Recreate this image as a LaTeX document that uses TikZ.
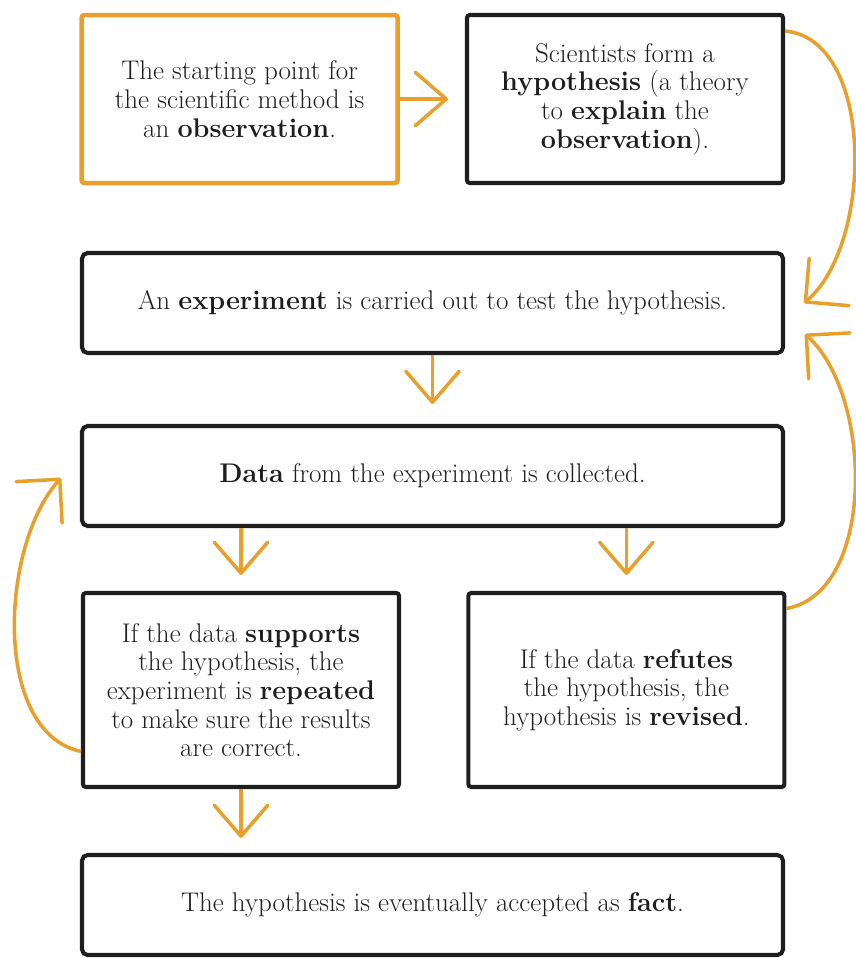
\documentclass[tikz,border=0pt]{standalone}
\usetikzlibrary{positioning,arrows.meta}
\definecolor{sciorange}{RGB}{232,160,42}
\definecolor{inkblack}{RGB}{30,30,30}

\begin{document}
\begin{tikzpicture}[
  box/.style={draw=inkblack, line width=2.9pt, rectangle, rounded corners=2pt,
              align=center, inner sep=0pt, text=inkblack,
              font=\fontsize{19.2}{20.4}\selectfont},
  obox/.style={box, draw=sciorange, line width=3.2pt},
  halfbox/.style={box, minimum width=7.9cm, minimum height=4.2cm},
  tallbox/.style={box, minimum width=7.9cm, minimum height=4.85cm},
  widebox/.style={box, rounded corners=4pt, minimum width=17.525cm, minimum height=2.5cm},
  arr/.style={-{Straight Barb[length=22pt,width=38pt,round]}, draw=sciorange, line width=2.5pt},
  backarr/.style={arr, -{Straight Barb[length=22pt,width=44pt,round]}, looseness=0.85}
]
\useasboundingbox (0,0) rectangle (21.4,-23.95);

%% ── nodes ───────────────────────────────────────────────────────────────
\node[halfbox, obox] (obs) at (5.99,  -2.475) {The starting point for\\ the scientific method is\\ an \textbf{observation}.};
\node[halfbox]       (hyp) at (15.625,-2.475) {Scientists form a\\ \textbf{hypothesis} (a theory\\ to \textbf{explain} the\\ \textbf{observation}).};

\node[widebox] (exp)  at (10.8125, -7.575) {An \textbf{experiment} is carried out to test the hypothesis.};
\node[widebox] (data) at (10.8125,-11.9)   {\textbf{Data} from the experiment is collected.};

% Outcomes
\node[tallbox] (sup) at (6.025,-17.25) {If the data \textbf{supports}\\ the hypothesis, the\\ experiment is \textbf{repeated}\\ to make sure the results\\ are correct.};
\node[tallbox] (ref) at (15.66,-17.25) {If the data \textbf{refutes}\\ the hypothesis, the\\ hypothesis is \textbf{revised}.};

\node[widebox] (fact) at (10.8125,-22.625) {The hypothesis is eventually accepted as \textbf{fact}.};

%% ── edges ───────────────────────────────────────────────────────────────
\draw[arr, shorten >=0.425cm] (obs) -- (hyp);
\draw[arr, shorten >=0.5cm]   (exp) -- (data);
\draw[arr, shorten >=0.4cm]   (sup.north |- data.south) -- (sup);
\draw[arr, shorten >=0.4cm]   (ref.north |- data.south) -- (ref);
\draw[arr, shorten >=0.375cm] (sup) -- (sup.south |- fact.north);

% Loops back
\draw[backarr] (hyp.23) to[out=-5, in=40]
               ([xshift=0.475cm]exp.east);
\draw[backarr] (ref.27) to[out=10, in=-42]
               ([xshift=0.5cm,yshift=-0.775cm]exp.east);
\draw[backarr] (sup.201.6) to[out=168, in=-132]
               ([xshift=-0.475cm,yshift=-0.05cm]data.west);

\end{tikzpicture}
\end{document}
